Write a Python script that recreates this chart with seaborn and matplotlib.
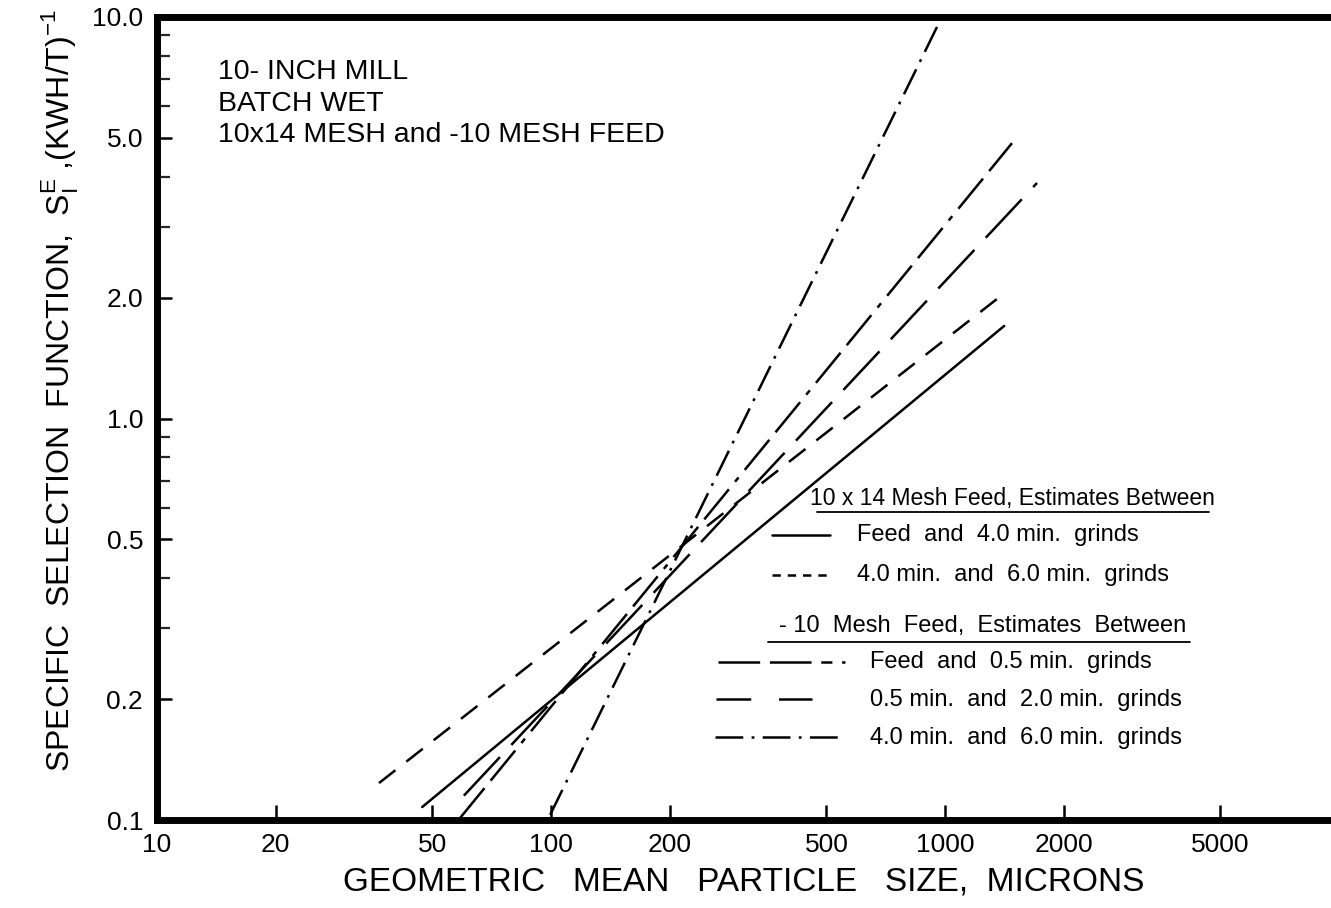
import numpy as np
import pandas as pd
import matplotlib
matplotlib.use("Agg")
import matplotlib.pyplot as plt
from matplotlib.lines import Line2D
from matplotlib.ticker import FixedLocator, FixedFormatter, NullFormatter, NullLocator
import seaborn as sns

# ---------------- data ----------------
series_names = [
    "10x14 Feed and 4.0 min",
    "10x14 4.0 min and 6.0 min",
    "-10 Feed and 0.5 min",
    "-10 0.5 min and 2.0 min",
    "-10 4.0 min and 6.0 min",
]
# endpoints of each straight (log-log) fitted line
line_x = {
    "10x14 Feed and 4.0 min": [47.1, 1413],
    "10x14 4.0 min and 6.0 min": [36.6, 1395],
    "-10 Feed and 0.5 min": [58.7, 1479],
    "-10 0.5 min and 2.0 min": [60.1, 1712],
    "-10 4.0 min and 6.0 min": [99.5, 982],
}
line_y = {
    "10x14 Feed and 4.0 min": [0.1077, 1.70],
    "10x14 4.0 min and 6.0 min": [0.1236, 2.03],
    "-10 Feed and 0.5 min": [0.101, 4.85],
    "-10 0.5 min and 2.0 min": [0.115, 3.86],
    "-10 4.0 min and 6.0 min": [0.103, 10.0],
}
x_major = [10, 20, 50, 100, 200, 500, 1000, 2000, 5000]
x_labels = ["10", "20", "50", "100", "200", "500", "1000", "2000", "5000"]
y_major = [0.1, 0.2, 0.5, 1.0, 2.0, 5.0, 10.0]
y_labels = ["0.1", "0.2", "0.5", "1.0", "2.0", "5.0", "10.0"]
y_minor = [0.3, 0.4, 0.6, 0.7, 0.8, 0.9, 3, 4, 6, 7, 8, 9]

legend_header1 = "10 x 14 Mesh Feed, Estimates Between"
legend_text1 = ["Feed  and  4.0 min.  grinds", "4.0 min.  and  6.0 min.  grinds"]
legend_header2 = "- 10  Mesh  Feed,  Estimates  Between"
legend_text2 = ["Feed  and  0.5 min.  grinds", "0.5 min.  and  2.0 min.  grinds",
                "4.0 min.  and  6.0 min.  grinds"]
note_lines = ["10- INCH MILL", "BATCH WET", "10x14 MESH and -10 MESH FEED"]

# ---------------- style ----------------
sns.set_theme(style="white")
plt.rcParams["font.family"] = ["Liberation Sans", "DejaVu Sans"]
plt.rcParams["text.color"] = "black"
plt.rcParams["axes.labelcolor"] = "black"
plt.rcParams["lines.scale_dashes"] = False

dash_styles = {
    "10x14 Feed and 4.0 min": "-",
    "10x14 4.0 min and 6.0 min": (0, (15, 10)),
    "-10 Feed and 0.5 min": (0, (28, 7, 28, 7, 4, 7)),
    "-10 0.5 min and 2.0 min": (0, (38, 12)),
    "-10 4.0 min and 6.0 min": (0, (20, 6, 2, 6)),
}

W, H = 1331, 908
fig = plt.figure(figsize=(W / 100, H / 100), dpi=100)
ax_l, ax_r, ax_t, ax_b = 157, 1331, 17, 820
ax = fig.add_axes([ax_l / W, 1 - ax_b / H, (ax_r - ax_l) / W, (ax_b - ax_t) / H])

for name in series_names:
    df = pd.DataFrame({"x": line_x[name], "y": line_y[name]})
    sns.lineplot(data=df, x="x", y="y", ax=ax, color="black", lw=1.8,
                 linestyle=dash_styles[name], estimator=None, sort=False)

ax.set_xscale("log")
ax.set_yscale("log")
ax.set_xlim(10, 10 ** (1 + (ax_r - ax_l) / 394.0))
ax.set_ylim(0.1, 10.0)

ax.xaxis.set_major_locator(FixedLocator(x_major))
ax.xaxis.set_major_formatter(FixedFormatter(x_labels))
ax.xaxis.set_minor_locator(NullLocator())
ax.yaxis.set_major_locator(FixedLocator(y_major))
ax.yaxis.set_major_formatter(FixedFormatter(y_labels))
ax.yaxis.set_minor_locator(FixedLocator(y_minor))
ax.yaxis.set_minor_formatter(NullFormatter())

ax.tick_params(axis="x", which="major", direction="in", length=11, width=1.8,
               labelsize=19, pad=9, colors="black", bottom=True)
ax.tick_params(axis="y", which="major", direction="in", length=11, width=1.8,
               labelsize=19, pad=10, colors="black", left=True)
ax.tick_params(axis="y", which="minor", direction="in", length=9, width=1.6, left=True)

for s in ["left", "top", "bottom"]:
    ax.spines[s].set_linewidth(5)
    ax.spines[s].set_color("black")
ax.spines["right"].set_visible(False)
ax.grid(False)

ax.set_xlabel("GEOMETRIC   MEAN   PARTICLE   SIZE,  MICRONS", fontsize=24, color="black")
ax.xaxis.set_label_coords(0.5, -0.058)
ax.set_ylabel(r"SPECIFIC  SELECTION  FUNCTION,  S$_\mathregular{I}^\mathregular{E}$ ,(KWH/T)$^\mathregular{-1}$",
              fontsize=23, color="black")
ax.yaxis.set_label_coords(-0.066, 0.535)

# ---------------- annotation ----------------
def fx(px):
    return px / W

def fy(py):
    return 1 - py / H

for i, t in enumerate(note_lines):
    fig.text(fx(218), fy([72, 104, 135][i]), t, fontsize=20.5, ha="left", va="center",
             color="black")

# ---------------- legend (drawn by hand) ----------------
def leg_line(x0, x1, y, ls):
    fig.add_artist(Line2D([fx(x0), fx(x1)], [fy(y), fy(y)], color="black", lw=1.8,
                          linestyle=ls))

fig.text(fx(1012), fy(498), legend_header1, fontsize=16.5, ha="center", va="center")
fig.add_artist(Line2D([fx(817), fx(1209)], [fy(512), fy(512)], color="black", lw=1.3))
leg_line(772, 830, 535, dash_styles[series_names[0]])
leg_line(772, 830, 575, (0, (6, 5)))
fig.text(fx(857), fy(535), legend_text1[0], fontsize=17, ha="left", va="center")
fig.text(fx(857), fy(575), legend_text1[1], fontsize=17, ha="left", va="center")

fig.text(fx(983), fy(626), legend_header2, fontsize=17, ha="center", va="center")
fig.add_artist(Line2D([fx(768), fx(1190)], [fy(642), fy(642)], color="black", lw=1.3))
leg_line(718, 845, 662, (0, (30, 7, 30, 7, 8, 7)))
leg_line(716, 812, 699, (0, (25, 20)))
leg_line(715, 838, 737, dash_styles[series_names[4]])
for i, t in enumerate(legend_text2):
    fig.text(fx(870), fy([662, 700, 738][i]), t, fontsize=17, ha="left", va="center")

fig.savefig("out.png", dpi=100, facecolor="white")
